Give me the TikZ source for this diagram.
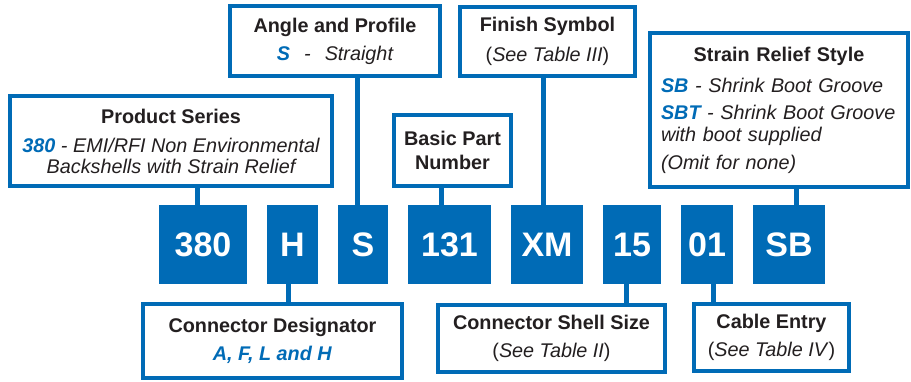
\documentclass[tikz,border=0pt]{standalone}
\usepackage{fontspec}
\setmainfont{Liberation Sans}
\definecolor{brand}{RGB}{0,107,182}
\definecolor{ink}{RGB}{35,31,32}

\tikzset{
  codebox/.style={fill=brand, text=white, font=\fontsize{34}{34}\selectfont\bfseries,
    minimum height=79pt, inner sep=0pt},
  infobox/.style={draw=brand, line width=3.6pt, fill=white, text=ink, inner sep=0pt,
    font=\fontsize{19.8}{21}\selectfont, align=center},
  link/.style={draw=brand, line width=5pt},
}
\newcommand{\hl}[1]{\textcolor{brand}{\textbf{#1}}}

\begin{document}
\begin{tikzpicture}[x=1pt, y=-1pt]
  \useasboundingbox (0,0) rectangle (911,381);

  % part number row
  \node[codebox, minimum width=88pt] (c380) at (203, 244.5) {380};
  \node[codebox, minimum width=51pt] (cH) at (292.5, 244.5) {H};
  \node[codebox, minimum width=50pt] (cS) at (363, 244.5) {S};
  \node[codebox, minimum width=83pt] (c131) at (449.5, 244.5) {131};
  \node[codebox, minimum width=72pt] (cXM) at (547, 244.5) {XM};
  \node[codebox, minimum width=58pt] (c15) at (632, 244.5) {15};
  \node[codebox, minimum width=52pt] (c01) at (707, 244.5) {01};
  \node[codebox, minimum width=72pt] (cSB) at (789, 244.5) {SB};

  % upper labels
  \node[infobox, minimum width=322.4pt, minimum height=90.4pt] (series) at (171, 141)
    {\textbf{Product Series}\\[8pt]
     \itshape\hl{380} - EMI/RFI Non Environmental\\ \itshape Backshells with Strain Relief};
  \node[infobox, minimum width=210.4pt, minimum height=70.4pt] (angle) at (335, 41)
    {\textbf{Angle and Profile}\\[7pt]
     \itshape\hl{S}\hspace{14pt}-\hspace{14pt}Straight};
  \node[infobox, minimum width=175.4pt, minimum height=69.4pt] (finish) at (547.5, 41.5)
    {\textbf{Finish Symbol}\\[9pt] (\textit{See Table III})};
  \node[infobox, minimum width=117.4pt, minimum height=71.4pt] (basic) at (452.5, 150.5)
    {\textbf{Basic Part}\\[3pt] \textbf{Number}};
  \node[infobox, minimum width=258.4pt, minimum height=154.4pt, text width=236pt,
    inner xsep=11pt, align=left] (strain) at (779, 110)
    {\centering\textbf{Strain Relief Style}\par\vspace{10pt}
     \raggedright\itshape\hl{SB} - Shrink Boot Groove\\[6pt]
     \hl{SBT} - Shrink Boot Groove\\[1pt]
     with boot supplied\\[7pt]
     (Omit for none)};

  % lower labels
  \node[infobox, minimum width=259.4pt, minimum height=74.4pt] (designator) at (272.5, 341)
    {\textbf{Connector Designator}\\[7pt] \textcolor{brand}{\textbf{\textit{A, F, L and H}}}};
  \node[infobox, minimum width=227.4pt, minimum height=67.4pt] (shell) at (551.5, 338.5)
    {\textbf{Connector Shell Size}\\[7pt] (\textit{See Table II})};
  \node[infobox, minimum width=155.4pt, minimum height=67.4pt] (entry) at (771.5, 337.5)
    {\textbf{Cable Entry}\\[7pt] (\textit{See Table IV})};

  % leaders
  \draw[link] ([xshift=-5.5pt]c380.north) -- ([xshift=-5.5pt]c380.north |- series.south);
  \draw[link] ([xshift=-6pt]cS.north) -- ([xshift=-6pt]cS.north |- angle.south);
  \draw[link] ([xshift=-8.5pt]c131.north) -- ([xshift=-8.5pt]c131.north |- basic.south);
  \draw[link] ([xshift=-4pt]cXM.north) -- ([xshift=-4pt]cXM.north |- finish.south);
  \draw[link] ([xshift=7pt]cSB.north) -- ([xshift=7pt]cSB.north |- strain.south);
  \draw[link] ([xshift=-4.5pt]cH.south) -- ([xshift=-4.5pt]cH.south |- designator.north);
  \draw[link] ([xshift=-6pt]c15.south) -- ([xshift=-6pt]c15.south |- shell.north);
  \draw[link] ([xshift=6pt]c01.south) -- ([xshift=6pt]c01.south |- entry.north);
\end{tikzpicture}
\end{document}
